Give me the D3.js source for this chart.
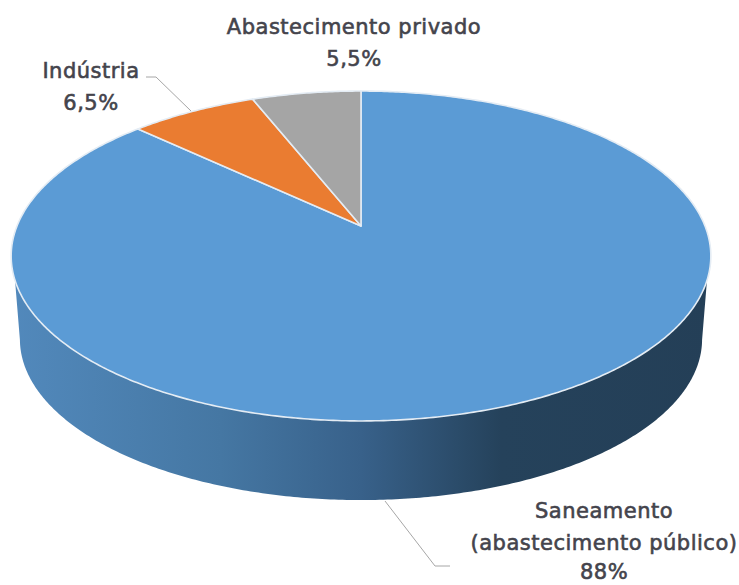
<!DOCTYPE html>
<html>
<head>
<meta charset="utf-8">
<script src="https://cdn.jsdelivr.net/npm/d3@7"></script>
<style>
  html, body { margin: 0; padding: 0; background: #fff; }
  svg { display: block; }
  text { font-family: "DejaVu Sans", sans-serif; font-size: 21px; letter-spacing: 0.5px; fill: #44444c; stroke: #44444c; stroke-width: 0.6px; }
</style>
</head>
<body>
<svg id="chart" width="739" height="585"></svg>
<script>
// the picture's slices are not quite what the labels say, so drawn shares are kept apart
let categories = ["Saneamento (abastecimento público)", "Indústria", "Abastecimento privado"];
let labelValues = ["88%", "6,5%", "5,5%"];
let drawnShares = [87, 7, 6];
let sliceColors = ["#5b9bd5", "#ea7c31", "#a5a5a5"];

let svg = d3.select("#chart");

// disc in perspective: apex sits above the middle of the ellipse
let centerX = 361;
let apexY = 226;
let radiusX = 344;
let radiusY = 159.5;
let tilt = 0.1818;

function project(angle, offsetY, scale) {
  let d = 1 + tilt * Math.cos(angle);
  return [
    centerX + scale * radiusX * Math.sin(angle) / d,
    apexY + offsetY - scale * radiusY * Math.cos(angle) / d
  ];
}

let pie = d3.pie().sort(null).value(d => d);
let slices = pie(drawnShares);
let line = d3.line();

function sampleAngles(a0, a1) {
  let n = Math.max(2, Math.ceil(Math.abs(a1 - a0) / 0.01));
  return d3.range(n + 1).map(i => a0 + (a1 - a0) * i / n);
}

// side wall, it starts a bit below the widest point of the disc
let depth = 84;
let lowerScale = 0.975;
let wallTrim = 0.14;
let fullTurn = sampleAngles(0, 2 * Math.PI);
let leftAngle = d3.least(fullTurn, a => project(a, 0, 1)[0]);
let rightAngle = d3.least(fullTurn, a => -project(a, 0, 1)[0]);
let upperEdge = sampleAngles(rightAngle + wallTrim, leftAngle - wallTrim).map(a => project(a, 0, 1));
let lowerEdge = sampleAngles(leftAngle, rightAngle).map(a => project(a, depth, lowerScale));

let gradient = svg.append("defs").append("linearGradient")
  .attr("id", "wall")
  .attr("gradientUnits", "userSpaceOnUse")
  .attr("x1", 10).attr("x2", 712).attr("y1", 0).attr("y2", 0);
gradient.selectAll("stop")
  .data([[0, "#5289bc"], [0.3, "#4577a3"], [0.5, "#38618a"], [0.7, "#25425b"], [1, "#243f57"]])
  .enter().append("stop")
  .attr("offset", d => d[0])
  .attr("stop-color", d => d[1]);

svg.append("path")
  .attr("d", line(upperEdge.concat(lowerEdge)) + "Z")
  .attr("fill", "url(#wall)");

// top of the disc
svg.selectAll(".slice")
  .data(slices)
  .enter().append("path")
  .attr("class", "slice")
  .attr("d", d => line([[centerX, apexY]].concat(sampleAngles(d.startAngle, d.endAngle).map(a => project(a, 0, 1)))) + "Z")
  .attr("fill", (d, i) => sliceColors[i])
  .attr("stroke", "#e4ecf4")
  .attr("stroke-width", 1.6)
  .attr("stroke-linejoin", "round");

// leader lines
let leaders = [
  [[191, 111], [156, 77], [146, 77]],
  [[385, 501], [435, 566], [450, 566]]
];
svg.selectAll(".leader")
  .data(leaders)
  .enter().append("path")
  .attr("class", "leader")
  .attr("d", d => line(d))
  .attr("fill", "none")
  .attr("stroke", "#a6a6a6")
  .attr("stroke-width", 1);

// labels
let labelLines = [
  { x: 354, y: 34, t: categories[2] },
  { x: 354, y: 66, t: labelValues[2] },
  { x: 91, y: 78, t: categories[1] },
  { x: 91, y: 110, t: labelValues[1] },
  { x: 604, y: 518, t: "Saneamento" },
  { x: 604, y: 550, t: "(abastecimento público)" },
  { x: 604, y: 579, t: labelValues[0] }
];
svg.selectAll(".label")
  .data(labelLines)
  .enter().append("text")
  .attr("class", "label")
  .attr("x", d => d.x)
  .attr("y", d => d.y)
  .attr("text-anchor", "middle")
  .text(d => d.t);
</script>
</body>
</html>
